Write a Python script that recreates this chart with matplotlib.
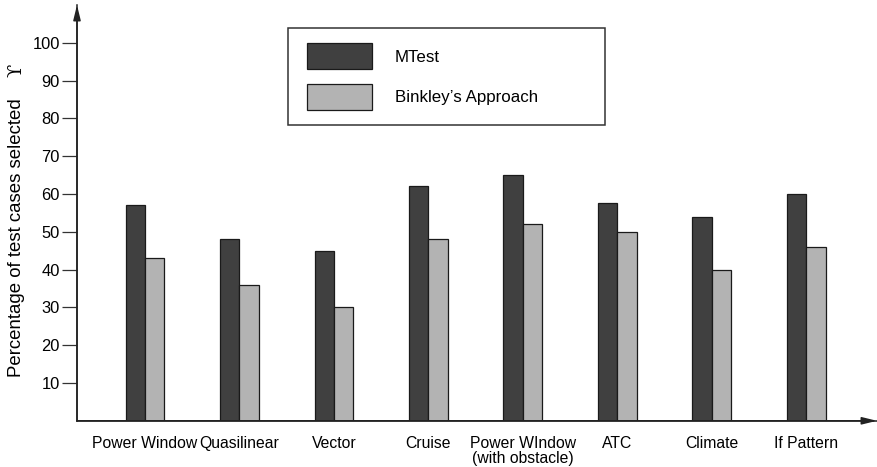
import matplotlib
matplotlib.use('Agg')
import matplotlib.pyplot as plt
import numpy as np
from matplotlib.container import BarContainer
from matplotlib.legend_handler import HandlerPatch, update_from_first_child

plt.rcParams['font.family'] = ['Liberation Sans', 'DejaVu Sans']

# Datos
categorias = ['Power Window', 'Quasilinear', 'Vector', 'Cruise',
              'Power WIndow\n(with obstacle)', 'ATC', 'Climate', 'If Pattern']
mtest = [57, 48, 45, 62, 65, 57.5, 54, 60]
binkley = [43, 36, 30, 48, 52, 50, 40, 46]
y_ticks = [10, 20, 30, 40, 50, 60, 70, 80, 90, 100]

W, H = 877, 467
fig = plt.figure(figsize=(W / 100, H / 100), dpi=100)
ax = fig.add_axes([77 / W, 1 - 420.8 / H, 800 / W, (420.8 - 5) / H])

x = np.arange(len(categorias))
ancho = 0.205
ax.bar(x - ancho / 2, mtest, ancho, color='#404040', edgecolor='#1a1a1a',
       linewidth=0.9, label='MTest')
ax.bar(x + ancho / 2, binkley, ancho, color='#b3b3b3', edgecolor='#1a1a1a',
       linewidth=0.9, label="Binkley\u2019s Approach")

ax.set_xlim(-0.72, 7.75)
ax.set_ylim(0, 110)
ax.set_yticks(y_ticks)
ax.set_xticks(x)
ax.set_xticklabels(categorias, fontsize=11.3, linespacing=1.0)
ax.tick_params(axis='x', length=0, pad=11)
ax.tick_params(axis='y', length=11, width=0.9, pad=1.5, labelsize=11.9, color='#333333')

for s in ['top', 'right']:
    ax.spines[s].set_visible(False)
for s in ['left', 'bottom']:
    ax.spines[s].set_linewidth(1.1)
    ax.spines[s].set_color('#222222')

# Flechas de los ejes
flecha = dict(arrowstyle='-|>,head_length=0.9,head_width=0.22', color='#222222',
              lw=1.1, shrinkA=0, shrinkB=0)
ax.annotate('', xy=(0, 1), xytext=(0, 0), xycoords='axes fraction',
            arrowprops=flecha, annotation_clip=False)
ax.annotate('', xy=(1, 0), xytext=(0, 0), xycoords='axes fraction',
            arrowprops=flecha, annotation_clip=False)

fig.text(17 / W, 1 - 237.5 / H, 'Percentage of test cases selected', rotation=90,
         ha='center', va='center', fontsize=13.4)
fig.text(16 / W, 1 - 70 / H, '\u03d2', rotation=90, ha='center', va='center',
         fontsize=14, family=['DejaVu Serif', 'DejaVu Sans'])

leg = ax.legend(loc='upper left', bbox_to_anchor=(288 / W, 1 - 28 / H, 317 / W, 0),
                bbox_transform=fig.transFigure, mode='expand', borderaxespad=0,
                fontsize=12.2, handlelength=4.05, handleheight=2.0,
                handletextpad=1.36, labelspacing=0.85, borderpad=0.9,
                fancybox=False, edgecolor='#333333', framealpha=1,
                handler_map={BarContainer: HandlerPatch(xpad=0.2,
                                                        update_func=update_from_first_child)})
leg.get_frame().set_linewidth(1.1)

plt.savefig('out.png', dpi=100)
plt.close()
